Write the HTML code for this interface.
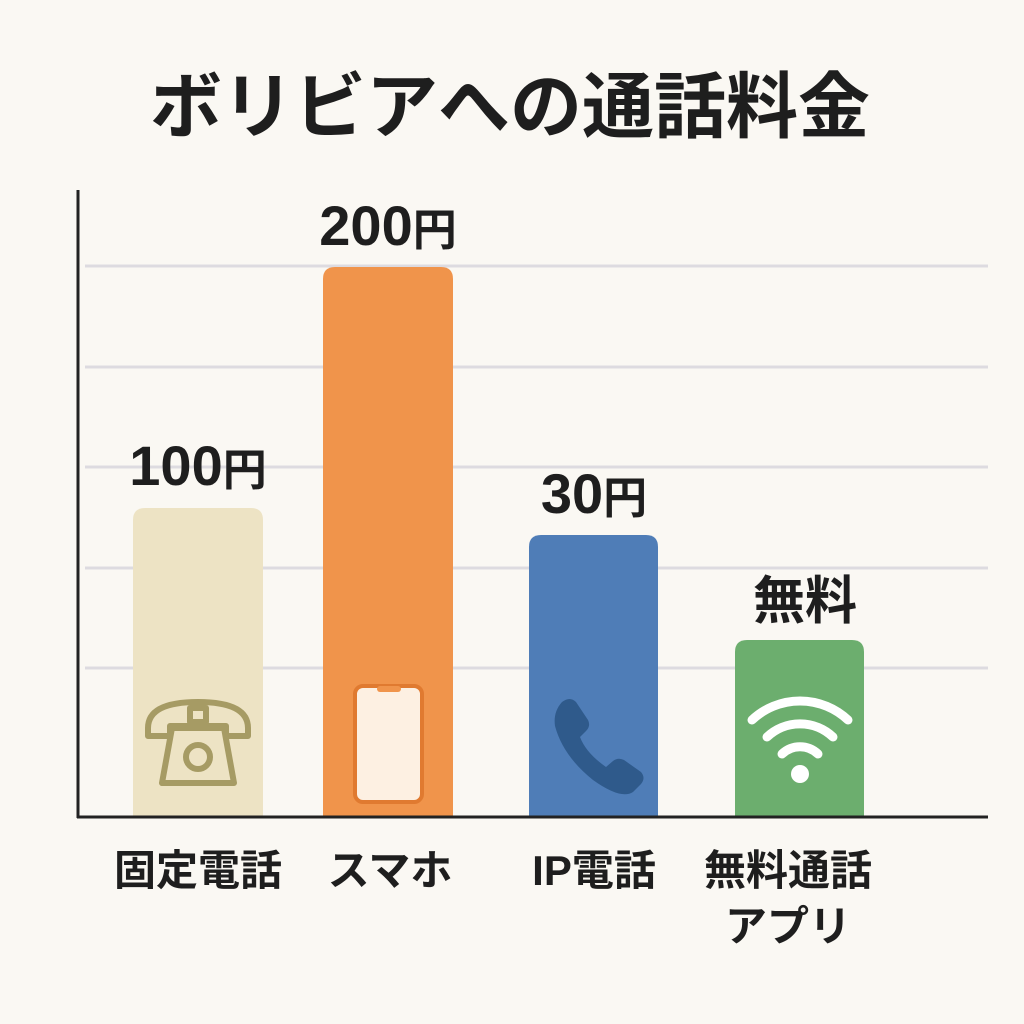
<!DOCTYPE html>
<html><head><meta charset="utf-8"><style>
html,body{margin:0;padding:0;background:#faf8f3;}
body{width:1024px;height:1024px;position:relative;overflow:hidden;font-family:"Liberation Sans","Noto Sans CJK JP",sans-serif;color:#1e1e1e;}
.t{position:absolute;white-space:nowrap;font-weight:bold;transform:translate(-50%,-50%);line-height:1;}
.v b{font-weight:bold}
</style></head><body>
<svg width="1024" height="1024" style="position:absolute;left:0;top:0">
<g stroke="#dddbe0" stroke-width="3">
<line x1="85" y1="266" x2="988" y2="266"/>
<line x1="85" y1="367" x2="988" y2="367"/>
<line x1="85" y1="467" x2="988" y2="467"/>
<line x1="85" y1="568" x2="988" y2="568"/>
<line x1="85" y1="668" x2="988" y2="668"/>
</g>
<path d="M133 520 q0-12 12-12 h106 q12 0 12 12 V817 H133Z" fill="#ede3c4"/>
<path d="M323 279 q0-12 12-12 h106 q12 0 12 12 V817 H323Z" fill="#f0944b"/>
<path d="M529 547 q0-12 12-12 h105 q12 0 12 12 V817 H529Z" fill="#4f7db7"/>
<path d="M735 652 q0-12 12-12 h105 q12 0 12 12 V817 H735Z" fill="#6cae6e"/>
<line x1="78" y1="190" x2="78" y2="818" stroke="#222" stroke-width="3"/>
<line x1="77" y1="817" x2="988" y2="817" stroke="#222" stroke-width="3"/>
<g fill="none" stroke="#a69b64" stroke-width="6" stroke-linejoin="round">
<path d="M148 728 q0-26 50-26 q50 0 50 26 v8 h-22 v-10 h-56 v10 h-22z"/>
<path d="M172 728 l-10 55 h72 l-10-55z"/>
<circle cx="198" cy="757" r="12"/>
<rect x="190" y="708" width="16" height="14"/>
</g>
<rect x="355" y="686" width="67" height="116" rx="8" fill="#fdf0e2" stroke="#e07a30" stroke-width="4"/>
<rect x="377" y="686" width="24" height="6" rx="3" fill="#f0944b"/>
<path d="M562 702 q8-6 14 0 l12 18 q3 6-2 11 l-6 6 q6 16 26 30 l7-6 q5-4 11-1 l17 12 q5 6 0 12 l-8 8 q-12 8-40-12 q-30-24-38-54 q-2-14 7-24z" fill="#2f5a8b"/>
<g fill="none" stroke="#fff" stroke-width="9" stroke-linecap="round">
<path d="M752 720 a70 70 0 0 1 96 0"/>
<path d="M767 737 a48 48 0 0 1 66 0"/>
<path d="M782 754 a26 26 0 0 1 36 0"/>
</g>
<circle cx="800" cy="774" r="9" fill="#fff"/>
</svg>
<div class="t" style="left:510px;top:108px;font-size:72px;">ボリビアへの通話料金</div>
<div class="t" style="left:198px;top:466px;font-size:56px;font-weight:normal;"><b>100</b><b style="font-size:44px">円</b></div>
<div class="t" style="left:388px;top:226px;font-size:56px;font-weight:normal;"><b>200</b><b style="font-size:44px">円</b></div>
<div class="t" style="left:594px;top:494px;font-size:56px;font-weight:normal;"><b>30</b><b style="font-size:44px">円</b></div>
<div class="t" style="left:805px;top:602px;font-size:52px;">無料</div>
<div class="t" style="left:198px;top:871px;font-size:42px;">固定電話</div>
<div class="t" style="left:390px;top:871px;font-size:42px;">スマホ</div>
<div class="t" style="left:594px;top:871px;font-size:42px;">IP電話</div>
<div class="t" style="left:788px;top:871px;font-size:42px;">無料通話</div>
<div class="t" style="left:788px;top:927px;font-size:42px;">アプリ</div>
</body></html>
